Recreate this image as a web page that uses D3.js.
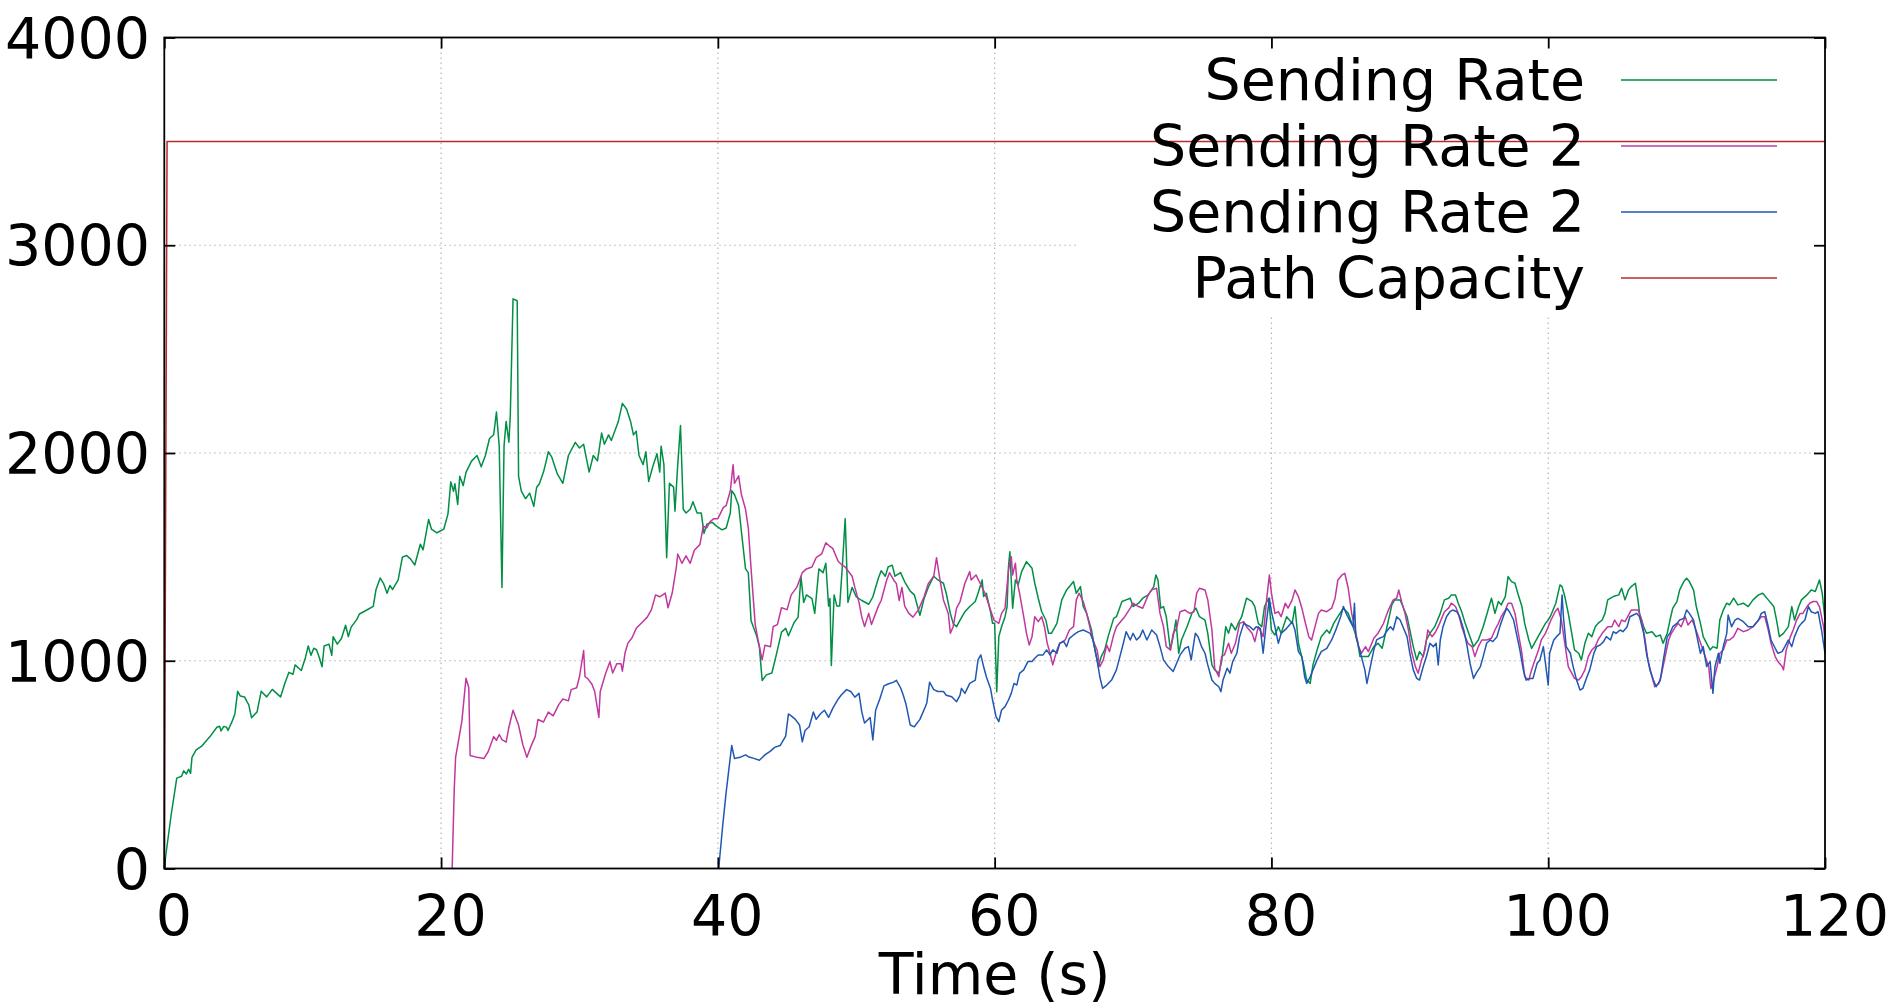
<!DOCTYPE html>
<html>
<head>
<meta charset="utf-8">
<script src="https://cdn.jsdelivr.net/npm/d3@7"></script>
<style>
  html, body { margin: 0; padding: 0; background: #fff; }
  svg { display: block; }
  text { font-family: "DejaVu Sans", sans-serif; fill: #000; }
</style>
</head>
<body>
<svg id="chart" width="1895" height="1007"></svg>
<script>
// ---- data: [time (s), rate] ----
const sendingRate = [
  [0,0],[0.1,60],[0.5,260],[0.9,435],[1.25,444],[1.4,470],[1.6,455],[1.75,478],[1.9,458],[2.0,535],[2.3,571],[2.7,589],
  [3.3,635],[3.8,680],[4.0,685],[4.1,662],[4.3,684],[4.5,680],[4.6,664],[4.9,708],[5.1,744],[5.3,853],[5.5,830],[5.8,826],
  [6.0,800],[6.1,789],[6.3,726],[6.7,753],[7.0,853],[7.4,826],[7.8,862],[8.0,850],[8.4,826],[8.7,889],[9.0,944],[9.3,935],
  [9.45,980],[9.9,953],[10.2,1016],[10.4,1071],[10.6,1026],[10.8,1060],[11.0,1053],[11.2,1016],[11.4,971],[11.55,1071],
  [11.9,1080],[12.1,1026],[12.2,1116],[12.5,1080],[12.8,1107],[13.1,1171],[13.3,1116],[13.5,1162],[13.9,1198],[14.1,1225],
  [14.6,1243],[15.1,1262],[15.3,1343],[15.6,1398],[15.85,1371],[16.1,1325],[16.3,1362],[16.5,1343],[16.9,1389],[17.2,1498],
  [17.5,1507],[17.8,1489],[18.1,1461],[18.5,1561],[18.7,1534],[19.1,1680],[19.3,1634],[19.7,1616],[20.2,1634],[20.5,1707],
  [20.7,1861],[20.9,1816],[21.0,1852],[21.2,1752],[21.35,1888],[21.6,1843],[21.8,1907],[22.2,1961],[22.6,1988],[22.9,1934],
  [23.2,1988],[23.5,2070],[23.8,2088],[24.0,2197],[24.2,2034],[24.4,1353],[24.55,2034],[24.7,2152],[24.9,2052],[25.0,2179],
  [25.2,2742],[25.5,2733],[25.6,1888],[25.8,1816],[26.1,1780],[26.4,1807],[26.7,1743],[26.9,1834],[27.1,1852],[27.4,1908],
  [27.6,1962],[27.75,2006],[28.0,1980],[28.4,1899],[28.8,1854],[29.2,1988],[29.7,2051],[30.0,2024],[30.3,2042],[30.7,1908],
  [31.0,1988],[31.3,1962],[31.6,2096],[31.8,2042],[32.1,2087],[32.3,2060],[32.6,2114],[32.8,2150],[33.1,2239],[33.4,2212],
  [33.7,2150],[33.9,2087],[34.1,2105],[34.3,1988],[34.6,1944],[34.8,2006],[35.0,1863],[35.3,1935],[35.6,1997],[35.8,1908],
  [35.9,2033],[36.1,1944],[36.3,1496],[36.5,1854],[36.8,1836],[36.9,1720],[37.1,1944],[37.3,2132],[37.5,1729],[37.7,1711],
  [38.0,1729],[38.2,1765],[38.5,1711],[38.8,1711],[39.0,1613],[39.2,1657],[39.6,1666],[39.9,1648],[40.3,1630],[40.6,1639],
  [40.9,1711],[41.0,1818],[41.2,1800],[41.5,1747],[41.7,1622],[42.0,1442],[42.2,1424],[42.4,1192],[42.8,1120],[43.0,1067],
  [43.2,905],[43.5,932],[43.9,941],[44.2,1022],[44.6,1138],[44.9,1156],[45.1,1120],[45.5,1183],[45.8,1210],[46.0,1407],
  [46.2,1281],[46.4,1317],[46.8,1299],[47.0,1228],[47.3,1442],[47.6,1424],[47.8,1469],[48.0,1263],[48.1,1300],[48.2,977],
  [48.4,1317],[48.6,1263],[48.8,1263],[49.0,1460],[49.2,1684],[49.4,1281],[49.7,1353],[50.0,1308],[50.4,1290],[50.9,1272],
  [51.2,1308],[51.6,1398],[51.8,1433],[52.1,1407],[52.3,1451],[52.6,1460],[52.8,1407],[53.2,1424],[53.5,1380],[53.9,1335],
  [54.2,1317],[54.6,1219],[54.9,1299],[55.2,1353],[55.6,1407],[55.9,1389],[56.3,1373],[56.5,1325],[56.8,1228],[57.0,1180],
  [57.25,1164],[57.5,1196],[57.85,1236],[58.2,1261],[58.6,1285],[58.8,1325],[59.1,1389],[59.2,1309],[59.4,1325],[59.7,1236],
  [59.85,1180],[60.0,1180],[60.15,851],[60.3,1116],[60.5,1164],[60.75,1212],[60.9,1261],[61.0,1453],[61.1,1525],[61.3,1253],
  [61.5,1389],[61.7,1365],[61.95,1429],[62.3,1477],[62.7,1445],[62.9,1373],[63.15,1301],[63.4,1236],[63.7,1196],[63.9,1132],
  [64.1,1132],[64.5,1180],[64.85,1293],[65.2,1341],[65.7,1381],[65.9,1325],[66.2,1357],[66.4,1261],[66.65,1228],[67.0,1148],
  [67.25,1052],[67.5,972],[67.7,1020],[67.95,1052],[68.2,1116],[68.6,1204],[68.8,1212],[69.2,1285],[69.5,1293],[69.8,1301],
  [70.0,1261],[70.4,1277],[70.7,1301],[71.1,1317],[71.5,1357],[71.65,1413],[71.8,1389],[72.0,1253],[72.2,1261],[72.4,1212],
  [72.7,1052],[72.9,1116],[73.1,1196],[73.3,1036],[73.5,1100],[73.9,1164],[74.25,1228],[74.55,1253],[74.8,1212],[75.2,1196],
  [75.4,1132],[75.7,980],[75.9,956],[76.2,940],[76.4,996],[76.7,1164],[76.9,1132],[77.1,1180],[77.4,1148],[77.6,1180],
  [77.85,1212],[78.2,1301],[78.6,1285],[78.8,1261],[79.05,1180],[79.3,1164],[79.5,1261],[79.8,1301],[80.0,1148],[80.25,1124],
  [80.5,1164],[80.7,1132],[81.1,1212],[81.5,1180],[81.7,1261],[81.95,1084],[82.3,988],[82.55,907],[82.8,891],[83.0,980],
  [83.3,1052],[83.6,1116],[84.0,1148],[84.2,1132],[84.5,1180],[84.8,1212],[85.2,1253],[85.55,1228],[85.9,1164],[86.2,1100],
  [86.4,1020],[86.6,1020],[87.0,1020],[87.4,1068],[87.7,1084],[88.0,1060],[88.3,1148],[88.7,1269],[88.9,1293],[89.3,1293],
  [89.5,1261],[89.8,1212],[90.0,1148],[90.25,1068],[90.5,1004],[90.7,1044],[90.97,1020],[91.2,1100],[91.45,1132],[91.8,1164],
  [92.2,1228],[92.5,1293],[92.8,1301],[93.0,1317],[93.3,1317],[93.5,1277],[93.75,1236],[94.0,1180],[94.3,1124],[94.6,1068],
  [94.95,1100],[95.3,1164],[95.55,1220],[95.9,1301],[96.15,1228],[96.4,1285],[96.6,1269],[96.9,1309],[97.1,1405],[97.35,1381],
  [97.6,1373],[97.8,1325],[98.1,1261],[98.3,1180],[98.6,1100],[98.8,1060],[99.0,1084],[99.4,1132],[99.8,1180],[100.0,1196],
  [100.2,1220],[100.55,1277],[100.85,1365],[101.0,1357],[101.2,1309],[101.45,1228],[101.7,1132],[101.9,1052],[102.2,1036],
  [102.4,1004],[102.65,1084],[102.9,1132],[103.15,1116],[103.4,1164],[103.6,1180],[103.9,1196],[104.1,1228],[104.3,1293],
  [104.7,1309],[105.1,1317],[105.3,1349],[105.55,1293],[105.8,1341],[106.0,1357],[106.3,1373],[106.5,1285],[106.6,1228],
  [106.9,1164],[107.1,1132],[107.5,1140],[107.8,1116],[108.1,1124],[108.3,1084],[108.6,1132],[108.8,1196],[109.0,1253],
  [109.3,1285],[109.5,1341],[109.8,1381],[110.0,1397],[110.2,1381],[110.5,1341],[110.7,1261],[111.0,1180],[111.2,1116],
  [111.45,1084],[111.7,1052],[111.9,1068],[112.2,1060],[112.4,1196],[112.65,1244],[112.9,1277],[113.1,1269],[113.4,1301],
  [113.7,1269],[114.1,1277],[114.45,1261],[114.8,1293],[115.2,1317],[115.5,1325],[115.9,1293],[116.3,1261],[116.5,1196],
  [116.7,1116],[117.0,1132],[117.35,1164],[117.6,1261],[117.8,1196],[118.1,1261],[118.3,1293],[118.7,1317],[119.0,1341],
  [119.3,1333],[119.6,1389],[119.8,1325],[120.0,1196]
];

const sendingRate2a = [
  [20.8,0],[20.95,380],[21.05,535],[21.5,708],[21.8,916],[22.0,871],[22.1,544],[22.6,535],[23.1,530],[23.4,562],[23.8,635],
  [24.0,617],[24.2,645],[24.4,620],[24.7,608],[24.9,680],[25.2,762],[25.6,689],[25.9,598],[26.2,535],[26.5,589],[26.8,635],
  [27.0,717],[27.4,705],[27.75,753],[28.1,735],[28.5,789],[28.8,816],[29.2,807],[29.4,861],[29.8,870],[30.0,923],[30.3,1049],
  [30.4,923],[30.6,914],[30.9,887],[31.1,852],[31.4,727],[31.5,852],[31.9,941],[32.2,995],[32.4,941],[32.7,986],[33.0,986],
  [33.1,950],[33.3,1040],[33.5,1085],[33.8,1111],[34.1,1156],[34.5,1183],[34.9,1210],[35.2,1246],[35.5,1317],[35.8,1308],
  [36.2,1326],[36.4,1255],[36.7,1326],[37.0,1451],[37.1,1514],[37.4,1469],[37.7,1505],[38.0,1469],[38.3,1532],[38.7,1559],
  [38.95,1648],[39.2,1639],[39.4,1666],[39.7,1684],[40.0,1684],[40.4,1738],[40.6,1747],[40.9,1818],[41.1,1944],[41.2,1854],
  [41.5,1890],[41.7,1800],[42.0,1729],[42.2,1639],[42.4,1442],[42.7,1174],[42.9,1102],[43.2,1004],[43.4,1075],[43.8,1067],
  [44.0,1165],[44.3,1174],[44.6,1255],[45.0,1246],[45.3,1317],[45.7,1353],[46.1,1424],[46.4,1442],[46.8,1451],[47.1,1496],
  [47.5,1514],[47.8,1568],[48.1,1550],[48.3,1541],[48.7,1478],[49.0,1460],[49.2,1451],[49.4,1433],[49.7,1407],[49.9,1353],
  [50.2,1281],[50.4,1210],[50.6,1165],[50.9,1228],[51.1,1174],[51.4,1228],[51.6,1263],[51.8,1290],[52.2,1389],[52.4,1424],
  [52.7,1389],[52.9,1371],[53.1,1290],[53.3,1353],[53.5,1263],[53.8,1228],[54.1,1210],[54.5,1246],[54.9,1308],[55.2,1371],
  [55.6,1407],[55.8,1496],[56.05,1389],[56.3,1293],[56.65,1228],[56.8,1132],[57.0,1164],[57.25,1253],[57.5,1285],[57.85,1373],
  [58.2,1429],[58.3,1389],[58.65,1413],[58.95,1373],[59.3,1325],[59.7,1244],[59.95,1196],[60.3,1180],[60.5,1228],[60.75,1253],
  [61.0,1437],[61.2,1501],[61.3,1413],[61.5,1469],[61.6,1389],[61.8,1325],[62.1,1212],[62.3,1132],[62.5,1076],[62.7,1116],
  [62.9,1212],[63.15,1188],[63.4,1212],[63.6,1164],[63.8,1084],[64.0,1036],[64.2,980],[64.5,1052],[64.7,1084],[65.1,1100],
  [65.4,1148],[65.7,1164],[65.9,1293],[66.1,1325],[66.4,1285],[66.65,1228],[66.9,1156],[67.1,1100],[67.4,1052],[67.6,972],
  [67.85,1004],[68.1,1076],[68.3,1044],[68.6,1124],[68.8,1164],[69.2,1196],[69.4,1212],[69.8,1253],[70.0,1277],[70.4,1261],
  [70.7,1253],[71.1,1317],[71.35,1341],[71.7,1349],[71.95,1228],[72.2,1164],[72.4,1068],[72.7,1052],[72.9,1132],[73.15,1156],
  [73.4,1236],[73.75,1244],[74.1,1228],[74.4,1236],[74.6,1325],[74.8,1349],[75.2,1341],[75.4,1293],[75.7,1148],[75.9,964],
  [76.2,923],[76.4,1020],[76.6,1028],[76.9,1084],[77.1,1036],[77.4,1084],[77.7,1180],[78.0,1188],[78.2,1164],[78.6,1132],
  [78.8,1092],[79.05,1164],[79.4,1116],[79.65,1293],[79.85,1413],[80.0,1325],[80.25,1228],[80.5,1236],[80.7,1212],[81.0,1277],
  [81.2,1253],[81.5,1293],[81.7,1341],[81.95,1309],[82.2,1253],[82.4,1196],[82.7,1116],[82.9,1100],[83.15,1164],[83.4,1228],
  [83.6,1244],[84.0,1236],[84.35,1253],[84.6,1301],[84.8,1389],[85.1,1413],[85.3,1421],[85.55,1349],[85.8,1228],[86.05,1148],
  [86.3,1068],[86.5,1036],[86.8,1068],[87.0,1044],[87.4,1108],[87.7,1132],[88.1,1180],[88.45,1244],[88.8,1293],[89.05,1301],
  [89.2,1341],[89.4,1285],[89.65,1228],[89.9,1148],[90.1,1052],[90.4,972],[90.6,940],[90.85,1004],[91.1,1052],[91.3,1148],
  [91.6,1116],[91.8,1132],[92.05,1164],[92.3,1204],[92.5,1236],[92.8,1253],[93.0,1277],[93.3,1261],[93.5,1228],[93.75,1164],
  [94.0,1116],[94.2,1084],[94.5,1068],[94.7,1020],[94.95,1068],[95.2,1100],[95.55,1100],[95.9,1108],[96.15,1148],[96.4,1180],
  [96.6,1212],[96.9,1244],[97.1,1277],[97.35,1277],[97.6,1228],[97.8,1148],[98.1,1036],[98.3,923],[98.6,907],[98.8,956],
  [99.0,996],[99.3,1052],[99.5,1100],[99.8,1132],[100.0,1164],[100.2,1196],[100.5,1236],[100.7,1253],[100.95,1196],
  [101.2,1084],[101.45,972],[101.7,940],[101.9,915],[102.2,907],[102.4,923],[102.65,956],[102.9,1020],[103.15,1052],
  [103.4,1068],[103.6,1100],[103.9,1132],[104.1,1148],[104.3,1164],[104.6,1164],[104.8,1196],[105.1,1164],[105.3,1196],
  [105.55,1188],[105.8,1220],[106.0,1244],[106.5,1244],[106.75,1196],[107.0,1100],[107.2,1004],[107.5,923],[107.7,875],
  [108.0,891],[108.2,940],[108.4,1004],[108.7,1100],[108.9,1132],[109.2,1164],[109.4,1180],[109.6,1164],[109.9,1212],
  [110.1,1172],[110.4,1196],[110.6,1164],[110.85,1116],[111.1,1068],[111.3,1028],[111.6,972],[111.75,867],[111.9,891],
  [112.2,972],[112.4,1036],[112.65,1052],[112.9,1100],[113.1,1100],[113.4,1116],[113.7,1156],[114.1,1140],[114.45,1148],
  [114.8,1164],[115.2,1196],[115.4,1212],[115.65,1212],[115.9,1148],[116.1,1084],[116.4,1020],[116.6,996],[116.9,972],
  [117.0,956],[117.2,1052],[117.5,1116],[117.7,1148],[117.95,1196],[118.2,1228],[118.4,1228],[118.7,1261],[118.9,1277],
  [119.15,1285],[119.4,1285],[119.6,1261],[119.9,1164],[120.0,1100]
];

const sendingRate2b = [
  [40.06,0],[40.35,207],[40.6,368],[41.0,592],[41.2,530],[41.6,535],[42.0,547],[42.2,538],[42.6,530],[43.0,521],[43.4,547],
  [43.8,565],[44.1,583],[44.5,592],[44.9,637],[45.1,744],[45.3,735],[45.6,718],[45.9,691],[46.1,610],[46.3,664],[46.6,682],
  [46.9,753],[47.1,718],[47.4,744],[47.7,762],[48.0,727],[48.3,771],[48.7,816],[48.9,834],[49.3,861],[49.6,852],[49.9,825],
  [50.2,843],[50.4,753],[50.6,700],[51.0,727],[51.2,619],[51.4,762],[51.7,816],[52.0,879],[52.3,888],[52.7,897],[52.9,906],
  [53.2,870],[53.4,834],[53.6,789],[53.9,691],[54.2,682],[54.6,718],[55.0,780],[55.1,798],[55.3,897],[55.6,861],[55.9,852],
  [56.3,852],[56.5,834],[56.9,827],[57.25,803],[57.5,835],[57.6,867],[57.85,843],[58.2,891],[58.6,907],[58.8,1004],[59.0,1028],
  [59.2,972],[59.4,923],[59.7,867],[59.85,811],[60.1,731],[60.3,707],[60.5,763],[60.75,779],[61.0,811],[61.2,843],[61.4,891],
  [61.6,883],[61.8,939],[62.1,956],[62.4,996],[62.7,996],[62.9,1012],[63.15,1028],[63.5,1028],[63.75,1052],[64.0,1028],
  [64.2,1052],[64.5,1036],[64.7,1084],[65.0,1092],[65.2,1068],[65.4,1108],[65.7,1124],[66.05,1140],[66.4,1148],[66.65,1140],
  [66.9,1132],[67.1,1100],[67.4,1004],[67.6,923],[67.8,867],[68.1,883],[68.45,907],[68.8,956],[69.05,1020],[69.3,1084],
  [69.5,1140],[69.8,1100],[70.0,1132],[70.25,1100],[70.5,1116],[70.7,1148],[71.0,1100],[71.35,1148],[71.7,1124],[71.95,1068],
  [72.2,1004],[72.55,972],[72.9,948],[73.15,988],[73.4,1028],[73.75,1060],[74.0,1068],[74.2,1004],[74.5,1132],[74.7,1116],
  [74.95,1068],[75.2,1036],[75.4,980],[75.7,907],[75.9,891],[76.2,875],[76.35,851],[76.5,907],[76.8,964],[77.0,940],
  [77.2,996],[77.5,1036],[77.7,1116],[78.0,1180],[78.2,1172],[78.45,1164],[78.7,1148],[78.9,1164],[79.2,1156],[79.4,1036],
  [79.6,1164],[79.85,1301],[80.0,1236],[80.25,1164],[80.5,1084],[80.7,1132],[81.1,1156],[81.5,1188],[81.7,1148],[81.95,1044],
  [82.2,1020],[82.4,923],[82.55,891],[82.8,923],[83.0,956],[83.3,1004],[83.6,1044],[84.0,1060],[84.35,1100],[84.7,1156],
  [85.0,1212],[85.2,1261],[85.4,1228],[85.7,1188],[85.9,1164],[86.0,1277],[86.1,1116],[86.3,1068],[86.5,1020],[86.75,956],
  [86.9,891],[87.1,956],[87.4,1052],[87.6,1100],[87.8,1108],[88.1,1116],[88.3,1140],[88.6,1164],[88.8,1148],[89.05,1212],
  [89.3,1196],[89.5,1164],[89.8,1116],[90.0,1036],[90.25,956],[90.5,915],[90.7,907],[90.97,972],[91.2,1020],[91.45,1084],
  [91.7,1068],[91.9,1084],[92.05,980],[92.2,1100],[92.4,1164],[92.65,1212],[92.9,1236],[93.1,1244],[93.4,1236],[93.6,1212],
  [93.9,1148],[94.1,1084],[94.35,988],[94.6,915],[94.8,940],[95.1,972],[95.3,1020],[95.55,1084],[95.8,1100],[96.0,1092],
  [96.3,1116],[96.5,1164],[96.75,1212],[97.0,1253],[97.2,1236],[97.5,1196],[97.7,1132],[97.95,1052],[98.2,956],[98.4,907],
  [98.7,915],[98.9,915],[99.2,988],[99.4,1004],[99.65,1068],[99.8,988],[100.0,883],[100.1,1036],[100.4,1100],[100.6,1116],
  [100.85,1132],[101.0,1317],[101.1,1212],[101.3,1068],[101.6,1036],[101.8,972],[102.05,907],[102.3,859],[102.5,867],
  [102.8,923],[103.0,956],[103.3,1036],[103.5,1068],[103.75,1076],[104.0,1092],[104.2,1116],[104.5,1100],[104.7,1140],
  [104.9,1132],[105.2,1148],[105.4,1140],[105.7,1164],[105.9,1212],[106.15,1220],[106.4,1228],[106.6,1212],[106.9,1132],
  [107.1,1036],[107.35,956],[107.6,907],[107.8,875],[108.1,907],[108.3,996],[108.6,1116],[108.8,1132],[109.0,1164],
  [109.3,1180],[109.5,1196],[109.8,1204],[110.0,1244],[110.2,1228],[110.5,1196],[110.7,1132],[111.0,1036],[111.2,1068],
  [111.45,972],[111.7,996],[111.9,843],[112.05,972],[112.3,1036],[112.4,988],[112.65,1068],[112.9,1132],[113.0,1220],
  [113.25,1164],[113.5,1196],[113.7,1204],[114.1,1188],[114.45,1164],[114.8,1164],[115.2,1196],[115.4,1228],[115.65,1236],
  [115.9,1164],[116.1,1100],[116.4,1060],[116.6,1036],[116.9,1044],[117.1,1068],[117.35,1100],[117.6,1068],[117.8,1116],
  [118.1,1164],[118.3,1180],[118.55,1196],[118.8,1261],[119.0,1236],[119.3,1228],[119.5,1236],[119.75,1148],[120.0,1036]
];

const pathCapacity = [[0,0],[0.2,3500],[120,3500]];

const xTicks = [0, 20, 40, 60, 80, 100, 120];
const yTicks = [0, 1000, 2000, 3000, 4000];
const seriesNames = ["Sending Rate", "Sending Rate 2", "Sending Rate 2", "Path Capacity"];
const seriesColors = ["#008f45", "#c0389e", "#1f57b2", "#b8282e"];
const xLabel = "Time (s)";

// ---- layout ----
const svg = d3.select("#chart");
const plot = { left: 164.3, right: 1825, top: 37.5, bottom: 868.5 };
const fontSize = 57;

const x = d3.scaleLinear().domain([0, 120]).range([plot.left, plot.right]);
const y = d3.scaleLinear().domain([0, 4000]).range([plot.bottom, plot.top]);

// dotted grid
const grid = svg.append("g").attr("stroke", "#b4b4b4").attr("stroke-width", 1.2)
  .attr("stroke-dasharray", "1.5,3.5");
grid.selectAll("line.gx").data(xTicks.slice(1, -1)).join("line")
  .attr("x1", d => x(d)).attr("x2", d => x(d))
  .attr("y1", plot.top).attr("y2", plot.bottom);
grid.selectAll("line.gy").data(yTicks.slice(1, -1)).join("line")
  .attr("x1", plot.left).attr("x2", plot.right)
  .attr("y1", d => y(d)).attr("y2", d => y(d));

// opaque key background
const key = { left: 1076, bottom: 316, textRight: 1585, sampleX1: 1621, sampleX2: 1777, rowY0: 80, rowStep: 66 };
svg.append("rect")
  .attr("x", key.left).attr("y", plot.top)
  .attr("width", plot.right - key.left).attr("height", key.bottom - plot.top)
  .attr("fill", "#fff");

// series
const line = d3.line().x(d => x(d[0])).y(d => y(d[1]));
const allSeries = [sendingRate, sendingRate2a, sendingRate2b, pathCapacity];
svg.append("g").selectAll("path").data(allSeries).join("path")
  .attr("d", d => line(d))
  .attr("fill", "none")
  .attr("stroke", (d, i) => seriesColors[i])
  .attr("stroke-width", 1.5)
  .attr("stroke-linejoin", "round");

// axes: inward ticks on all four sides
const tickLen = 11;
function styleAxis(g) {
  g.select(".domain").remove();
  g.selectAll(".tick line").attr("stroke", "#000").attr("stroke-width", 1.8);
}
svg.append("g").attr("transform", `translate(0,${plot.bottom})`)
  .call(d3.axisBottom(x).tickValues(xTicks).tickSize(-tickLen).tickFormat(d3.format("d")))
  .call(styleAxis)
  .call(g => g.selectAll(".tick text")
    .attr("x", 9).attr("y", 67.5).attr("dy", null)
    .attr("font-size", fontSize).attr("font-family", "DejaVu Sans").attr("fill", "#000"));
svg.append("g").attr("transform", `translate(0,${plot.top})`)
  .call(d3.axisTop(x).tickValues(xTicks).tickSize(-tickLen).tickFormat(""))
  .call(styleAxis);
svg.append("g").attr("transform", `translate(${plot.left},0)`)
  .call(d3.axisLeft(y).tickValues(yTicks).tickSize(-tickLen).tickFormat(d3.format("d")))
  .call(styleAxis)
  .call(g => g.selectAll(".tick text")
    .attr("x", 150 - plot.left).attr("dy", null).attr("y", 20.5)
    .attr("text-anchor", "end")
    .attr("font-size", fontSize).attr("font-family", "DejaVu Sans").attr("fill", "#000"));
svg.append("g").attr("transform", `translate(${plot.right},0)`)
  .call(d3.axisRight(y).tickValues(yTicks).tickSize(-tickLen).tickFormat(""))
  .call(styleAxis);

// frame
svg.append("rect")
  .attr("x", plot.left).attr("y", plot.top)
  .attr("width", plot.right - plot.left).attr("height", plot.bottom - plot.top)
  .attr("fill", "none").attr("stroke", "#000").attr("stroke-width", 1.8);

// x-axis title
svg.append("text")
  .attr("x", (plot.left + plot.right) / 2).attr("y", 994)
  .attr("text-anchor", "middle").attr("font-size", fontSize)
  .text(xLabel);

// key entries
const rows = svg.append("g").selectAll("g").data(seriesNames).join("g")
  .attr("transform", (d, i) => `translate(0,${key.rowY0 + i * key.rowStep})`);
rows.append("text")
  .attr("x", key.textRight).attr("y", 19.5)
  .attr("text-anchor", "end").attr("font-size", fontSize)
  .text(d => d);
rows.append("line")
  .attr("x1", key.sampleX1).attr("x2", key.sampleX2)
  .attr("y1", 0).attr("y2", 0)
  .attr("stroke", (d, i) => seriesColors[i]).attr("stroke-width", 1.5);
</script>
</body>
</html>
